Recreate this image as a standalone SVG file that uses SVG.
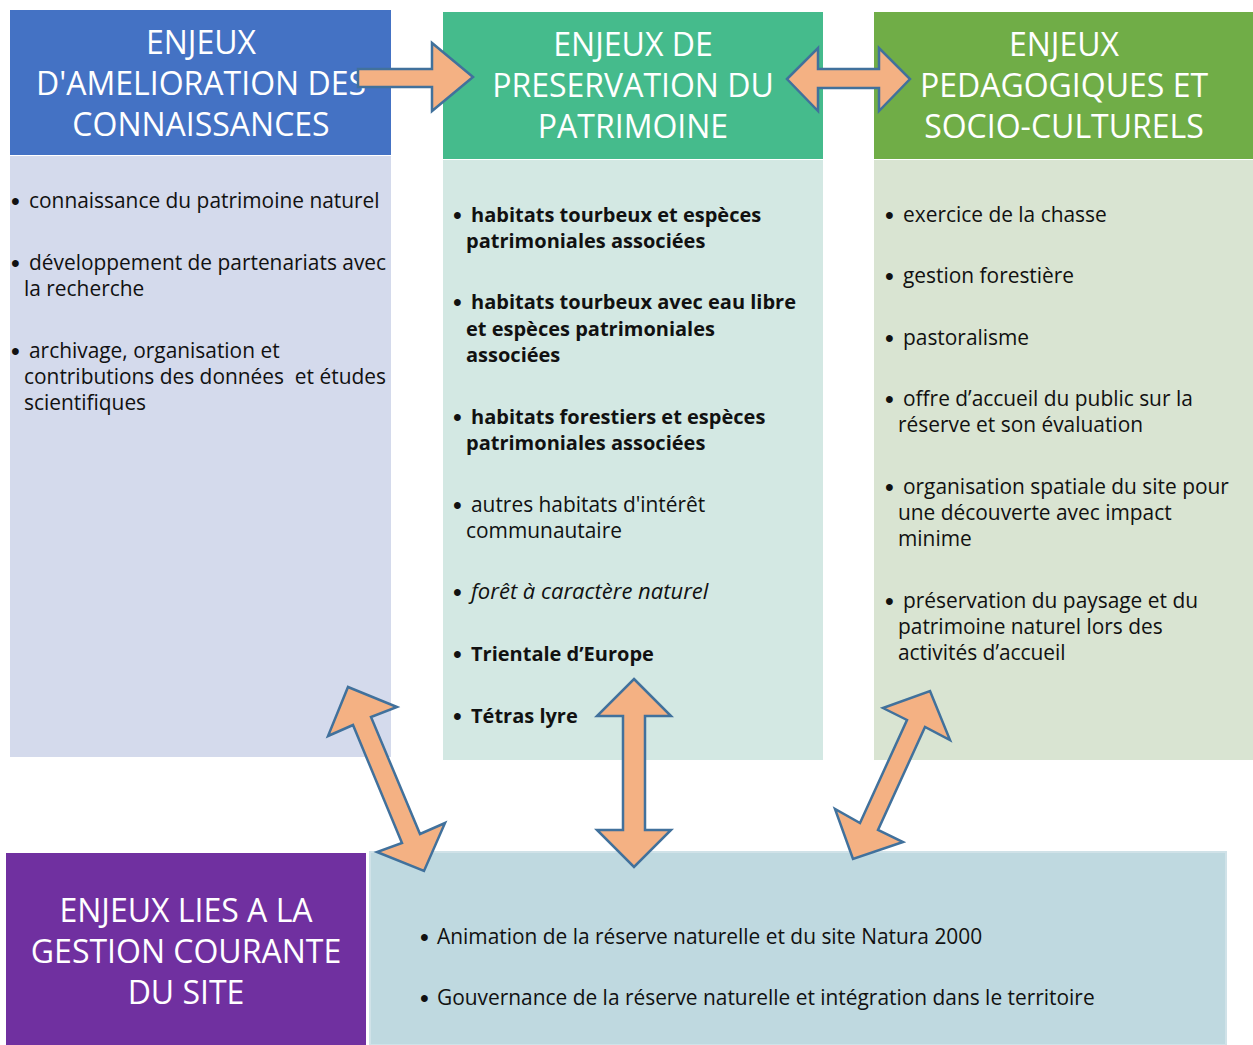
<svg xmlns="http://www.w3.org/2000/svg" width="1253" height="1045" viewBox="0 0 1253 1045">
<style>
.hd{font-family:"Open Sans","DejaVu Sans",sans-serif;font-size:32px;fill:#ffffff;text-anchor:middle}
.tx{font-family:"Open Sans","DejaVu Sans",sans-serif;font-size:20.9px;fill:#111111}
.b{font-weight:bold;font-size:20px}
.i{font-style:italic;font-size:22px}
.bl{font-family:"Liberation Sans",Arial,sans-serif;font-size:25px;fill:#111111}
.arr{fill:#f4b183;stroke:#41719c;stroke-width:2.5;stroke-linejoin:miter}
</style>
<rect x="0" y="0" width="1253" height="1045" fill="#ffffff"/>
<g id="node-connaissances">
<rect x="10" y="10" width="381" height="145" fill="#4472c4"/>
<rect x="10" y="156" width="381" height="601" fill="#d4daec"/>
<text class="hd" x="201" y="54">ENJEUX</text>
<text class="hd" x="201" y="95">D'AMELIORATION DES</text>
<text class="hd" x="201" y="136">CONNAISSANCES</text>
<text class="bl" x="11" y="210">•</text><text class="tx" x="29" y="208">connaissance du patrimoine naturel</text>
<text class="bl" x="11" y="272">•</text><text class="tx" x="29" y="270">développement de partenariats avec</text>
<text class="tx" x="24" y="296">la recherche</text>
<text class="bl" x="11" y="360">•</text><text class="tx" x="29" y="358">archivage, organisation et</text>
<text class="tx" x="24" y="384">contributions des données&#160; et études</text>
<text class="tx" x="24" y="410">scientifiques</text>
</g>
<g id="node-patrimoine">
<rect x="443" y="12" width="380" height="147" fill="#45bb8c"/>
<rect x="443" y="160" width="380" height="600" fill="#d3e8e3"/>
<text class="hd" x="633" y="56">ENJEUX DE</text>
<text class="hd" x="633" y="97">PRESERVATION DU</text>
<text class="hd" x="633" y="138">PATRIMOINE</text>
<text class="bl" x="453" y="224">•</text><text class="tx b" x="471" y="222">habitats tourbeux et espèces</text>
<text class="tx b" x="466" y="248">patrimoniales associées</text>
<text class="bl" x="453" y="311">•</text><text class="tx b" x="471" y="309">habitats tourbeux avec eau libre</text>
<text class="tx b" x="466" y="336">et espèces patrimoniales</text>
<text class="tx b" x="466" y="362">associées</text>
<text class="bl" x="453" y="426">•</text><text class="tx b" x="471" y="424">habitats forestiers et espèces</text>
<text class="tx b" x="466" y="450">patrimoniales associées</text>
<text class="bl" x="453" y="514">•</text><text class="tx" x="471" y="512">autres habitats d'intérêt</text>
<text class="tx" x="466" y="538">communautaire</text>
<text class="bl" x="453" y="601">•</text><text class="tx i" x="471" y="599">forêt à caractère naturel</text>
<text class="bl" x="453" y="663">•</text><text class="tx b" x="471" y="661">Trientale d’Europe</text>
<text class="bl" x="453" y="725">•</text><text class="tx b" x="471" y="723">Tétras lyre</text>
</g>
<g id="node-pedagogiques">
<rect x="874" y="12" width="379" height="147" fill="#70ad47"/>
<rect x="874" y="160" width="379" height="600" fill="#d9e4d2"/>
<text class="hd" x="1064" y="56">ENJEUX</text>
<text class="hd" x="1064" y="97">PEDAGOGIQUES ET</text>
<text class="hd" x="1064" y="138">SOCIO-CULTURELS</text>
<text class="bl" x="885" y="224">•</text><text class="tx" x="903" y="222">exercice de la chasse</text>
<text class="bl" x="885" y="285">•</text><text class="tx" x="903" y="283">gestion forestière</text>
<text class="bl" x="885" y="347">•</text><text class="tx" x="903" y="345">pastoralisme</text>
<text class="bl" x="885" y="408">•</text><text class="tx" x="903" y="406">offre d’accueil du public sur la</text>
<text class="tx" x="898" y="432">réserve et son évaluation</text>
<text class="bl" x="885" y="496">•</text><text class="tx" x="903" y="494">organisation spatiale du site pour</text>
<text class="tx" x="898" y="520">une découverte avec impact</text>
<text class="tx" x="898" y="546">minime</text>
<text class="bl" x="885" y="610">•</text><text class="tx" x="903" y="608">préservation du paysage et du</text>
<text class="tx" x="898" y="634">patrimoine naturel lors des</text>
<text class="tx" x="898" y="660">activités d’accueil</text>
</g>
<g id="node-gestion">
<rect x="6" y="853" width="360" height="192" fill="#7030a0"/>
<text class="hd" x="186" y="922">ENJEUX LIES A LA</text>
<text class="hd" x="186" y="963">GESTION COURANTE</text>
<text class="hd" x="186" y="1004">DU SITE</text>
</g>
<g id="node-gestion-actions">
<rect x="370" y="852" width="856" height="193" fill="#bfd9e0" stroke="#d0e2e8" stroke-width="2"/>
<text class="bl" x="420" y="946">•</text><text class="tx" x="437" y="944">Animation de la réserve naturelle et du site Natura 2000</text>
<text class="bl" x="420" y="1007">•</text><text class="tx" x="437" y="1005">Gouvernance de la réserve naturelle et intégration dans le territoire</text>
</g>
<g id="connectors">
<polygon class="arr" points="358,69 432,69 432,43 473,77 432,111 432,87 358,87"/>
<polygon class="arr" points="787,79 818,48 818,69 879,69 879,48 910,79 879,111 879,88 818,88 818,111"/>
<polygon class="arr" points="348,687 397,707 371,717 420,834 445,823 424,871 377,852 402,843 353,725 328,736"/>
<polygon class="arr" points="634,679 671,716 645,716 645,830 671,830 634,867 597,830 623,830 623,716 597,716"/>
<polygon class="arr" points="930,691 950,740 925,727 878,830 903,842 853,859 835,809 860,823 907,720 883,708"/>
</g>
</svg>
